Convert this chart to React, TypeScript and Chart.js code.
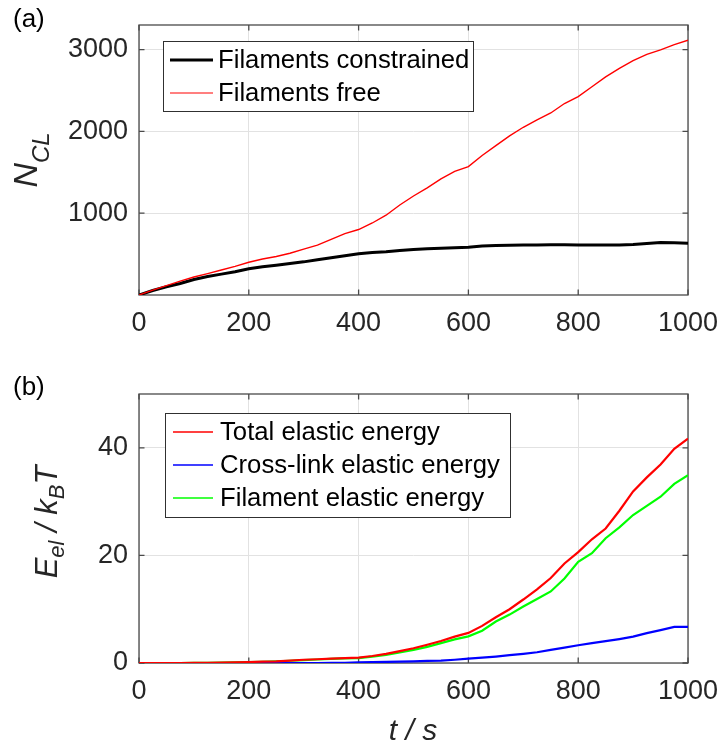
import React, { useEffect, useRef } from "react";
import { Chart, registerables } from "chart.js";

Chart.register(...registerables);

const FONT = '"Liberation Sans", Arial, Helvetica, sans-serif';

// ---------- data ----------
const timeS = [0, 25, 50, 75, 100, 125, 150, 175, 200, 225, 250, 275, 300, 325, 350, 375, 400, 425, 450, 475, 500, 525, 550, 575, 600, 625, 650, 675, 700, 725, 750, 775, 800, 825, 850, 875, 900, 925, 950, 975, 1000];

const constrainedNCL = [0, 55, 100, 140, 190, 225, 255, 285, 320, 345, 365, 385, 405, 430, 455, 480, 505, 520, 530, 545, 555, 565, 572, 578, 585, 600, 605, 608, 610, 612, 615, 613, 612, 612, 612, 612, 618, 630, 642, 638, 633];
const freeNCL = [0, 60, 115, 170, 220, 262, 305, 350, 400, 440, 470, 510, 560, 610, 680, 750, 800, 880, 975, 1100, 1210, 1310, 1420, 1510, 1570, 1705, 1825, 1945, 2050, 2140, 2225, 2340, 2425, 2545, 2665, 2770, 2865, 2940, 2995, 3060, 3114];

const totalEnergy = [0, 0, 0, 0, 0.02, 0.05, 0.08, 0.12, 0.18, 0.25, 0.32, 0.45, 0.6, 0.7, 0.8, 0.9, 1.0, 1.3, 1.7, 2.2, 2.75, 3.4, 4.1, 4.9, 5.6, 6.9, 8.5, 10.0, 11.8, 13.7, 15.8, 18.5, 20.6, 23.0, 25.0, 28.3, 31.9, 34.5, 36.9, 39.8, 41.7];
const crosslinkEnergy = [0, 0, 0, 0, 0, 0, 0, 0, 0, 0, 0, 0, 0, 0, 0.02, 0.05, 0.1, 0.15, 0.2, 0.25, 0.32, 0.4, 0.45, 0.6, 0.8, 1.0, 1.2, 1.45, 1.7, 2.0, 2.45, 2.85, 3.3, 3.7, 4.05, 4.45, 4.9, 5.55, 6.1, 6.7, 6.7];
const filamentEnergy = [0, 0, 0, 0, 0.02, 0.04, 0.07, 0.11, 0.16, 0.22, 0.3, 0.42, 0.55, 0.65, 0.75, 0.85, 0.9, 1.2, 1.5, 1.95, 2.45, 3.0, 3.7, 4.4, 4.95, 6.0, 7.7, 9.0, 10.5, 11.9, 13.3, 15.7, 18.8, 20.4, 23.2, 25.2, 27.5, 29.2, 30.9, 33.3, 34.9];

const xTicks = [0, 200, 400, 600, 800, 1000];
const nclTicks = [1000, 2000, 3000];
const energyTicks = [0, 20, 40];

const namesA = ["Filaments constrained", "Filaments free"];
const namesB = ["Total elastic energy", "Cross-link elastic energy", "Filament elastic energy"];

// ---------- helpers ----------
const pts = (ys: number[]) => timeS.map((t, i) => ({ x: t, y: ys[i] }));

type Seg = { t: string; size: number; dy: number; italic?: boolean };

function drawRich(ctx: CanvasRenderingContext2D, segs: Seg[], cx: number, by: number) {
  let total = 0;
  const widths = segs.map((s) => {
    ctx.font = `${s.italic === false ? "" : "italic "}${s.size}px ${FONT}`;
    const w = ctx.measureText(s.t).width;
    total += w;
    return w;
  });
  let x = cx - total / 2;
  ctx.textAlign = "left";
  ctx.textBaseline = "alphabetic";
  segs.forEach((s, i) => {
    ctx.font = `${s.italic === false ? "" : "italic "}${s.size}px ${FONT}`;
    ctx.fillText(s.t, x, by + s.dy);
    x += widths[i];
  });
}

const decor = {
  id: "decor",
  beforeDatasetsDraw(chart: any, _a: any, o: any) {
    const { ctx, chartArea: a } = chart;
    const xs = chart.scales.x;
    const ys = chart.scales.y;
    ctx.save();
    ctx.strokeStyle = "#4a4a4a";
    ctx.lineWidth = 1.3;
    ctx.beginPath();
    const L = 5.5;
    xs.ticks.forEach((t: any) => {
      const px = xs.getPixelForValue(t.value);
      ctx.moveTo(px, a.bottom);
      ctx.lineTo(px, a.bottom - L);
      ctx.moveTo(px, a.top);
      ctx.lineTo(px, a.top + L);
    });
    ys.ticks.forEach((t: any) => {
      const py = ys.getPixelForValue(t.value);
      ctx.moveTo(a.left, py);
      ctx.lineTo(a.left + L, py);
      ctx.moveTo(a.right, py);
      ctx.lineTo(a.right - L, py);
    });
    ctx.stroke();
    ctx.strokeRect(a.left, a.top, a.right - a.left, a.bottom - a.top);
    ctx.restore();
  },
  afterDatasetsDraw(chart: any, _a: any, o: any) {
    const { ctx } = chart;
    const lg = o.legend;
    if (!lg) return;
    ctx.save();
    ctx.fillStyle = "#ffffff";
    ctx.fillRect(lg.x, lg.y, lg.w, lg.h);
    ctx.strokeStyle = "#303030";
    ctx.lineWidth = 1;
    ctx.strokeRect(lg.x + 0.5, lg.y + 0.5, lg.w, lg.h);
    chart.data.datasets.forEach((ds: any, i: number) => {
      const ry = lg.row0 + i * lg.rowH;
      ctx.strokeStyle = ds.borderColor;
      ctx.lineWidth = ds.legendWidth || 1.5;
      ctx.beginPath();
      ctx.moveTo(lg.lx0, ry);
      ctx.lineTo(lg.lx1, ry);
      ctx.stroke();
      ctx.fillStyle = "#000000";
      ctx.font = `${lg.size}px ${FONT}`;
      ctx.textAlign = "left";
      ctx.textBaseline = "middle";
      ctx.fillText(ds.label, lg.tx, ry + 1);
    });
    ctx.restore();
  },
  afterDraw(chart: any, _a: any, o: any) {
    const { ctx } = chart;
    ctx.save();
    ctx.fillStyle = "#000000";
    ctx.font = `26px ${FONT}`;
    ctx.textAlign = "left";
    ctx.textBaseline = "alphabetic";
    ctx.fillText(o.panel, 13, o.panelY);
    ctx.fillStyle = "#262626";
    ctx.save();
    ctx.translate(o.yl.x, o.yl.y);
    ctx.rotate(-Math.PI / 2);
    drawRich(ctx, o.yl.segs, 0, 0);
    ctx.restore();
    if (o.xl) {
      drawRich(ctx, o.xl.segs, o.xl.x, o.xl.y);
    }
    ctx.restore();
  },
};

function makeOptions(cfg: any) {
  return {
    responsive: false,
    animation: false,
    devicePixelRatio: 1,
    layout: { padding: { left: 0, right: 32, top: cfg.top, bottom: 0 } },
    elements: { point: { radius: 0 }, line: { tension: 0 } },
    plugins: {
      legend: { display: false },
      tooltip: { enabled: false },
      decor: cfg.decor,
    },
    scales: {
      x: {
        type: "linear",
        min: 0,
        max: 1000,
        afterBuildTicks: (s: any) => {
          s.ticks = xTicks.map((v) => ({ value: v }));
        },
        afterFit: (s: any) => {
          s.height = cfg.xh;
          s.paddingLeft = 0;
          s.paddingRight = 0;
        },
        ticks: {
          font: { size: 27, family: FONT },
          color: "#262626",
          padding: 12,
          maxRotation: 0,
          autoSkip: false,
          callback: (v: any) => String(v),
        },
        grid: { color: "#e2e2e2", lineWidth: 1, drawTicks: false },
        border: { display: false },
      },
      y: {
        type: "linear",
        min: 0,
        max: cfg.ymax,
        afterBuildTicks: (s: any) => {
          s.ticks = cfg.yticks.map((v: number) => ({ value: v }));
        },
        afterFit: (s: any) => {
          s.width = 139;
          s.paddingTop = 0;
          s.paddingBottom = 0;
        },
        ticks: {
          font: { size: 27, family: FONT },
          color: "#262626",
          padding: 11,
          autoSkip: false,
          callback: (v: any) => String(v),
        },
        grid: { color: "#e2e2e2", lineWidth: 1, drawTicks: false },
        border: { display: false },
      },
    },
  };
}

function Panel({ height, top, config }: { height: number; top: number; config: () => any }) {
  const ref = useRef<HTMLCanvasElement>(null);
  useEffect(() => {
    if (!ref.current) return;
    const chart = new Chart(ref.current, config());
    return () => chart.destroy();
  }, []);
  return (
    <canvas
      ref={ref}
      width={720}
      height={height}
      style={{ position: "absolute", left: 0, top, width: 720, height, display: "block" }}
    />
  );
}

const configA = () => ({
  type: "line",
  plugins: [decor],
  data: {
    datasets: [
      { label: namesA[0], data: pts(constrainedNCL), borderColor: "#000000", borderWidth: 3, legendWidth: 3, order: 1 },
      { label: namesA[1], data: pts(freeNCL), borderColor: "#ff0000", borderWidth: 1.4, legendWidth: 1.2, order: 0 },
    ],
  },
  options: makeOptions({
    top: 25,
    xh: 75,
    ymax: 3300,
    yticks: nclTicks,
    decor: {
      panel: "(a)",
      panelY: 27,
      yl: {
        x: 37,
        y: 160,
        segs: [
          { t: "N", size: 34, dy: 0 },
          { t: "CL", size: 24, dy: 12 },
        ],
      },
      legend: { x: 163, y: 41, w: 310, h: 70, row0: 60, rowH: 33, lx0: 170, lx1: 213, tx: 218, size: 25.7 },
    },
  }),
});

const configB = () => ({
  type: "line",
  plugins: [decor],
  data: {
    datasets: [
      { label: namesB[0], data: pts(totalEnergy), borderColor: "#ff0000", borderWidth: 2.2, legendWidth: 1.4 },
      { label: namesB[1], data: pts(crosslinkEnergy), borderColor: "#0000ff", borderWidth: 2.2, legendWidth: 1.4 },
      { label: namesB[2], data: pts(filamentEnergy), borderColor: "#00ff00", borderWidth: 2.2, legendWidth: 1.4 },
    ],
  },
  options: makeOptions({
    top: 24,
    xh: 84,
    ymax: 50,
    yticks: energyTicks,
    decor: {
      panel: "(b)",
      panelY: 25,
      yl: {
        x: 57,
        y: 152,
        segs: [
          { t: "E", size: 31, dy: 0 },
          { t: "el", size: 22, dy: 7 },
          { t: " / ", size: 31, dy: 0 },
          { t: "k", size: 31, dy: 0 },
          { t: "B", size: 22, dy: 7 },
          { t: "T", size: 31, dy: 0 },
        ],
      },
      xl: {
        x: 413,
        y: 370,
        segs: [{ t: "t / s", size: 30, dy: 0 }],
      },
      legend: { x: 165, y: 43, w: 345, h: 104, row0: 62, rowH: 33, lx0: 173, lx1: 213, tx: 220, size: 25.7 },
    },
  }),
});

export default function App() {
  return (
    <div style={{ position: "absolute", left: 0, top: 0, width: 720, height: 747, background: "#ffffff" }}>
      <Panel height={370} top={0} config={configA} />
      <Panel height={377} top={370} config={configB} />
    </div>
  );
}
